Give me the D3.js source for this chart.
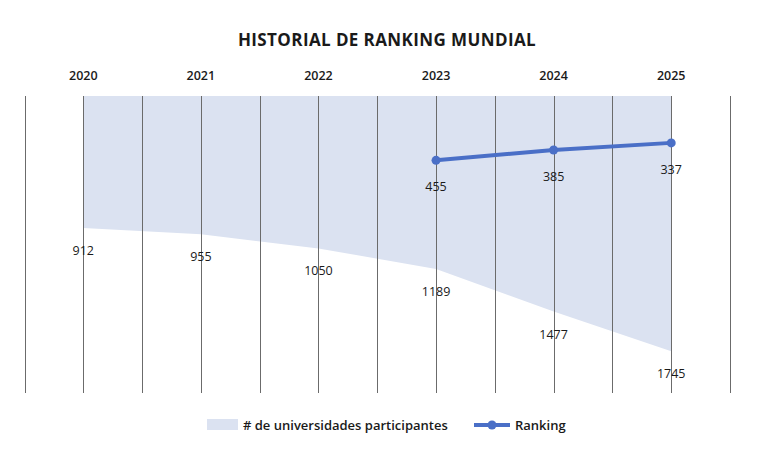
<!DOCTYPE html>
<html>
<head>
<meta charset="utf-8">
<script src="https://cdn.jsdelivr.net/npm/d3@7/dist/d3.min.js"></script>
<style>
  body { margin: 0; background: #fff; }
  text { font-family: "Open Sans", sans-serif; fill: #1a1a1a; }
</style>
</head>
<body>
<div id="chart"></div>
<script>
// data
const years = ["2020", "2021", "2022", "2023", "2024", "2025"];
const participantes = [912, 955, 1050, 1189, 1477, 1745];
const rankingYears = ["2023", "2024", "2025"];
const ranking = [455, 385, 337];

const width = 768, height = 453;
const gridTop = 96, gridBottom = 393;

const svg = d3.select("#chart")
  .append("svg")
  .attr("width", width)
  .attr("height", height);

// each year spans one band, grid lines on band edges and centres
const x = d3.scaleBand()
  .domain(years)
  .range([24.5, 730]);

const y = d3.scaleLinear()
  .domain([0, 2000])
  .range([93, 389]);

const cx = d => x(d) + x.bandwidth() / 2;

// area: from top of grid down to the value
const area = d3.area()
  .x((d, i) => cx(years[i]))
  .y0(gridTop)
  .y1(d => y(d));

svg.append("path")
  .datum(participantes)
  .attr("d", area)
  .attr("fill", "#dbe2f1");

// vertical grid lines
const gridX = [];
years.forEach(yr => {
  gridX.push(x(yr));
  gridX.push(cx(yr));
});
gridX.push(x(years[years.length - 1]) + x.bandwidth());

svg.selectAll(".grid")
  .data(gridX)
  .enter()
  .append("line")
  .attr("x1", d => Math.round(d) + 0.5)
  .attr("x2", d => Math.round(d) + 0.5)
  .attr("y1", gridTop)
  .attr("y2", gridBottom)
  .attr("stroke", "#6b6b6b")
  .attr("stroke-width", 1);

// year labels on top
svg.selectAll(".year")
  .data(years)
  .enter()
  .append("text")
  .attr("x", d => cx(d))
  .attr("y", 80)
  .attr("text-anchor", "middle")
  .attr("font-size", "12.5px")
  .attr("font-weight", 600)
  .text(d => d);

// area value labels
svg.selectAll(".plab")
  .data(participantes)
  .enter()
  .append("text")
  .attr("x", (d, i) => cx(years[i]))
  .attr("y", d => y(d) + 27)
  .attr("text-anchor", "middle")
  .attr("font-size", "12.5px")
  .text(d => d);

// ranking line
const line = d3.line()
  .x((d, i) => cx(rankingYears[i]))
  .y(d => y(d));

svg.append("path")
  .datum(ranking)
  .attr("d", line)
  .attr("fill", "none")
  .attr("stroke", "#4a6fc7")
  .attr("stroke-width", 4);

svg.selectAll(".rdot")
  .data(ranking)
  .enter()
  .append("circle")
  .attr("cx", (d, i) => cx(rankingYears[i]))
  .attr("cy", d => y(d))
  .attr("r", 4.5)
  .attr("fill", "#4a6fc7");

svg.selectAll(".rlab")
  .data(ranking)
  .enter()
  .append("text")
  .attr("x", (d, i) => cx(rankingYears[i]))
  .attr("y", d => y(d) + 31)
  .attr("text-anchor", "middle")
  .attr("font-size", "12.5px")
  .text(d => d);

// title
svg.append("text")
  .attr("x", 387)
  .attr("y", 46)
  .attr("text-anchor", "middle")
  .attr("font-size", "17px")
  .attr("font-weight", "bold")
  .attr("letter-spacing", "0.4px")
  .attr("fill", "#2b2b2b")
  .text("HISTORIAL DE RANKING MUNDIAL");

// legend
const lg = svg.append("g");
lg.append("rect")
  .attr("x", 207).attr("y", 419)
  .attr("width", 31).attr("height", 11)
  .attr("fill", "#dbe2f1");
lg.append("text")
  .attr("x", 243).attr("y", 429.5)
  .attr("font-size", "13px")
  .attr("font-weight", 600)
  .text("# de universidades participantes");
lg.append("line")
  .attr("x1", 474).attr("x2", 510)
  .attr("y1", 425).attr("y2", 425)
  .attr("stroke", "#4a6fc7")
  .attr("stroke-width", 4);
lg.append("circle")
  .attr("cx", 492).attr("cy", 425).attr("r", 4.5)
  .attr("fill", "#4a6fc7");
lg.append("text")
  .attr("x", 515).attr("y", 429.5)
  .attr("font-size", "13px")
  .attr("font-weight", 600)
  .text("Ranking");
</script>
</body>
</html>
